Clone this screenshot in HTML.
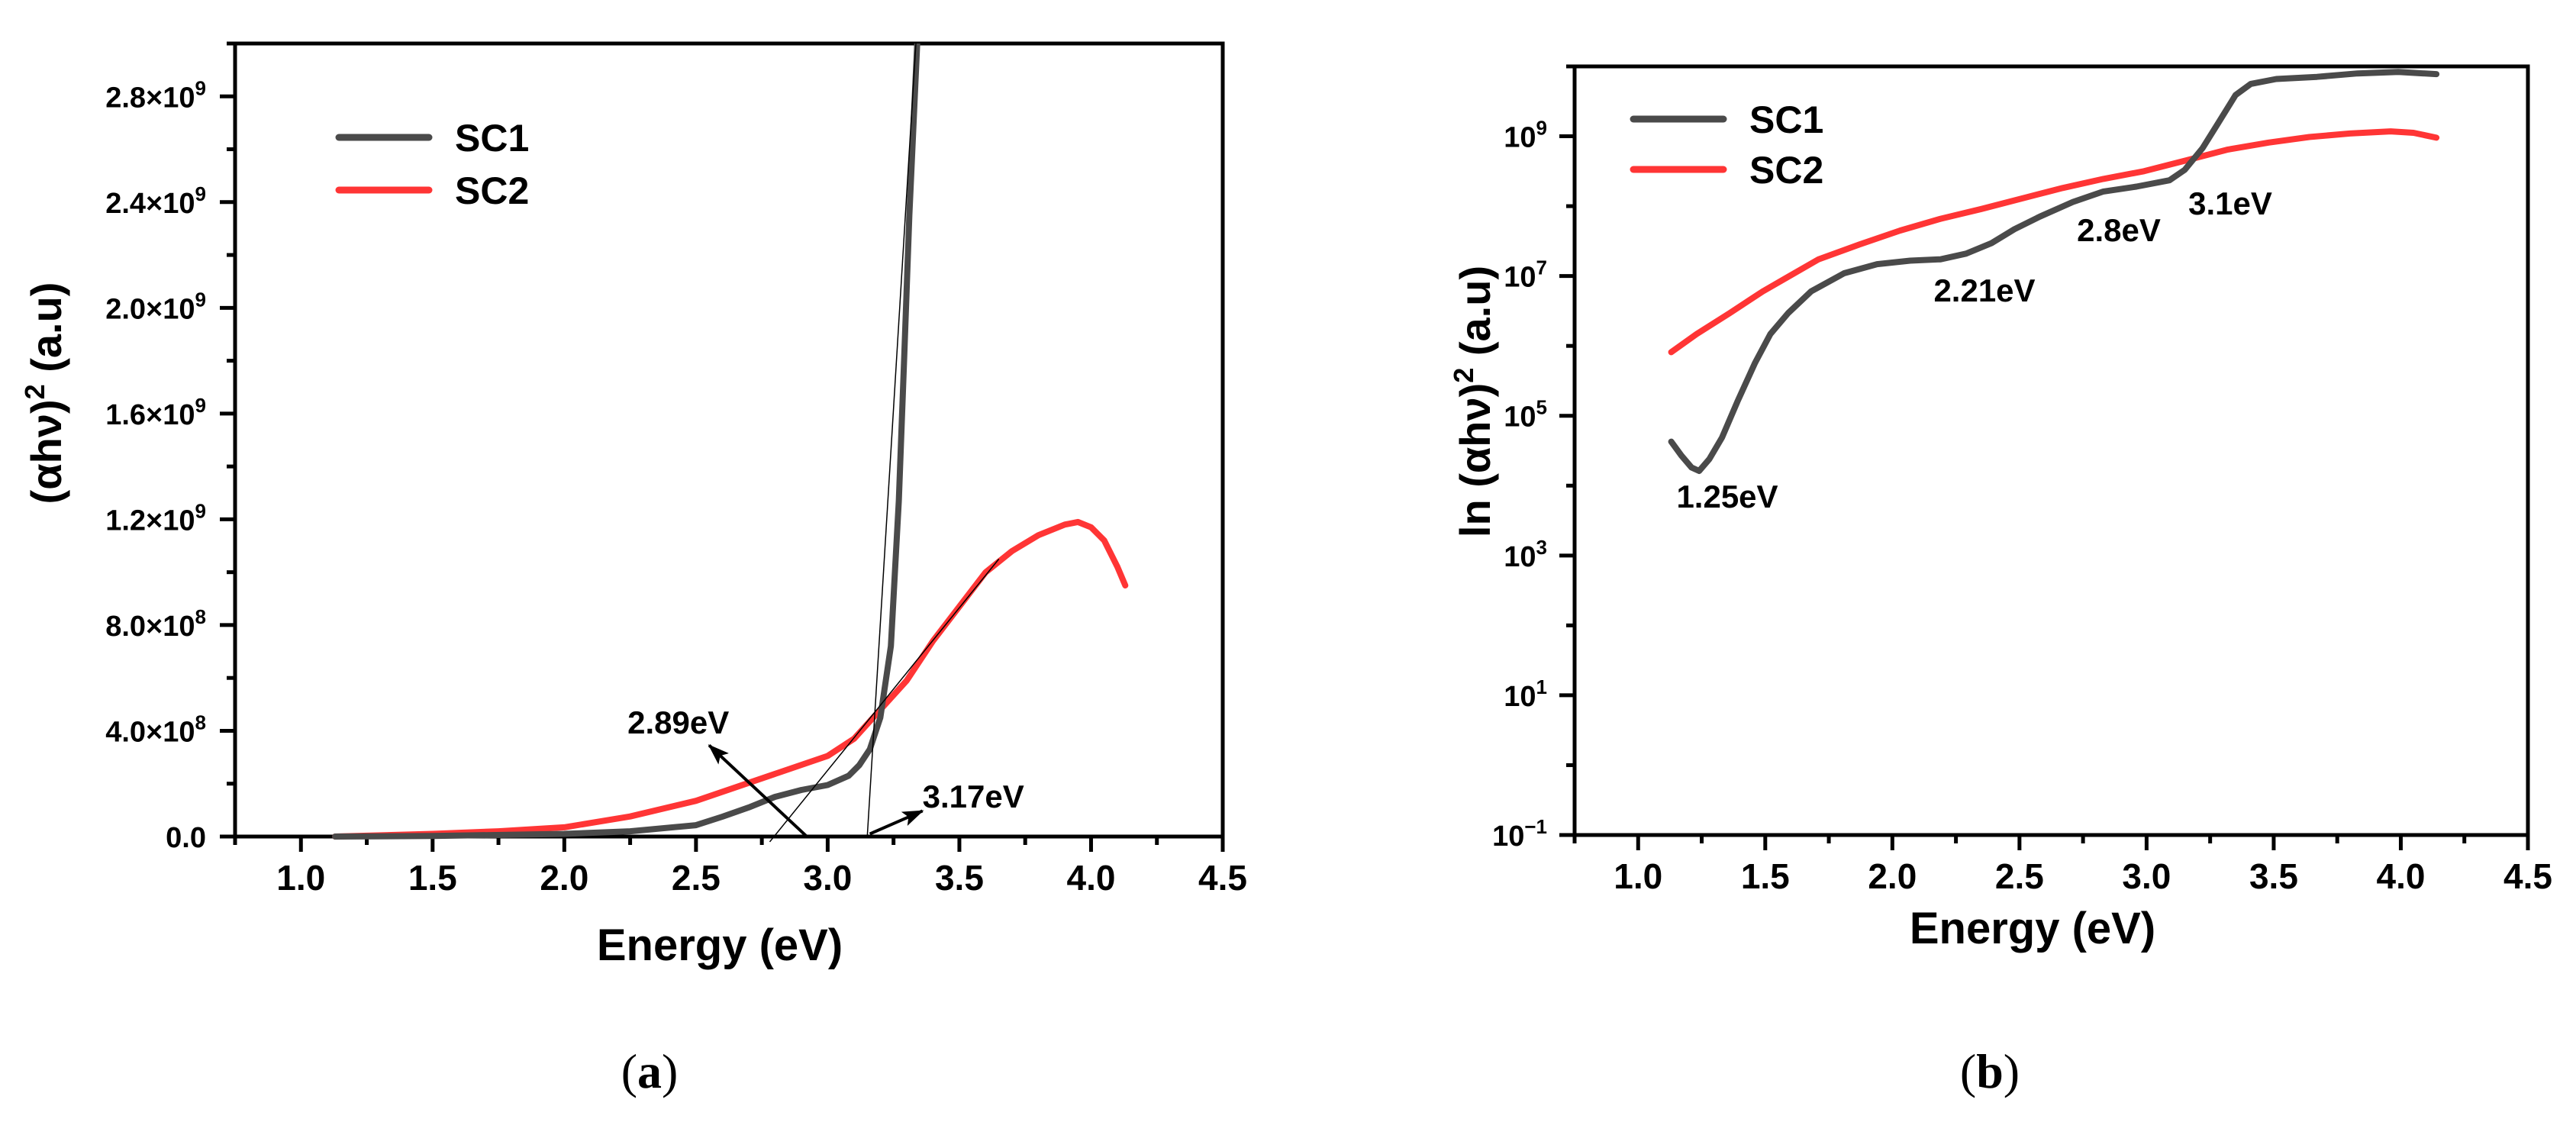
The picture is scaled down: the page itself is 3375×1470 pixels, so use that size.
<!DOCTYPE html>
<html><head><meta charset="utf-8"><style>
html,body{margin:0;padding:0;background:#fff}
svg{display:block}
text{font-family:"Liberation Sans",Arial,sans-serif;font-weight:bold;fill:#000}
</style></head><body>
<svg id="fig" width="3375" height="1470" viewBox="0 0 3375 1470" xmlns="http://www.w3.org/2000/svg">
<g id="pa"></g>
<g id="pb"></g>
<text x="851" y="1425" text-anchor="middle" style="font-family:'Liberation Serif',serif;font-weight:normal;font-size:64px">(<tspan font-weight="bold">a</tspan>)</text>
<text x="2607" y="1425" text-anchor="middle" style="font-family:'Liberation Serif',serif;font-weight:normal;font-size:64px">(<tspan font-weight="bold">b</tspan>)</text>
</svg>
<script>
// Panel (a) data
const aSC1x=[1.13,1.5,2.0,2.25,2.5,2.6,2.7,2.8,2.9,3.0,3.08,3.12,3.16,3.2,3.24,3.27,3.29,3.31,3.34,3.36];
const aSC1y=[0,0.02e8,0.1e8,0.2e8,0.43e8,0.75e8,1.1e8,1.5e8,1.76e8,1.95e8,2.3e8,2.7e8,3.3e8,4.5e8,7.2e8,1.27e9,1.8e9,2.35e9,3.0e9,3.4e9];
const aSC2x=[1.13,1.5,1.75,2.0,2.25,2.5,2.75,3.0,3.1,3.2,3.3,3.4,3.5,3.6,3.7,3.8,3.9,3.95,4.0,4.05,4.1,4.13];
const aSC2y=[0,0.1e8,0.2e8,0.35e8,0.76e8,1.35e8,2.2e8,3.05e8,3.7e8,4.8e8,5.9e8,7.4e8,8.7e8,1.0e9,1.08e9,1.14e9,1.18e9,1.19e9,1.17e9,1.12e9,1.02e9,0.95e9];
const aYTicks=[0,4e8,8e8,1.2e9,1.6e9,2.0e9,2.4e9,2.8e9];
const aYTickMant=["0.0","4.0","8.0","1.2","1.6","2.0","2.4","2.8"];
const aYTickExp=["","8","8","9","9","9","9","9"];
const xTicks=[1.0,1.5,2.0,2.5,3.0,3.5,4.0,4.5];
const xTickLabels=["1.0","1.5","2.0","2.5","3.0","3.5","4.0","4.5"];
// Panel (b) data (log10 values)
const bSC1x=[1.13,1.17,1.21,1.24,1.28,1.33,1.39,1.46,1.52,1.59,1.68,1.81,1.94,2.07,2.19,2.29,2.39,2.48,2.58,2.71,2.83,2.96,3.09,3.15,3.22,3.28,3.35,3.41,3.51,3.67,3.83,3.99,4.14];
const bSC1log=[4.63,4.43,4.26,4.21,4.38,4.69,5.2,5.76,6.17,6.47,6.78,7.04,7.17,7.22,7.24,7.32,7.47,7.67,7.85,8.06,8.21,8.28,8.37,8.52,8.83,9.18,9.59,9.75,9.82,9.85,9.9,9.92,9.89];
const bSC2x=[1.13,1.23,1.36,1.49,1.59,1.71,1.87,2.03,2.19,2.35,2.51,2.67,2.83,2.99,3.15,3.32,3.48,3.64,3.8,3.96,4.05,4.14];
const bSC2log=[5.91,6.17,6.47,6.78,6.99,7.24,7.45,7.65,7.82,7.96,8.11,8.26,8.39,8.5,8.65,8.81,8.91,8.99,9.04,9.07,9.05,8.98];
const bYTickExp=[-1,1,3,5,7,9];
const bYTickLabels=["\u22121","1","3","5","7","9"];

const NS="http://www.w3.org/2000/svg";
function mk(parent,tag,attrs){const e=document.createElementNS(NS,tag);for(const k in attrs)e.setAttribute(k,attrs[k]);parent.appendChild(e);return e;}

const A={l:308,r:1602,t:57,b:1096,x0:0.75,x1:4.5,y0:0,y1:3e9};
const B={l:2063,r:3312,t:87,b:1094,x0:0.75,x1:4.5,y0:-1,y1:10};
function ax(P,v){return P.l+(v-P.x0)/(P.x1-P.x0)*(P.r-P.l);}
function ay(P,v){return P.b-(v-P.y0)/(P.y1-P.y0)*(P.b-P.t);}

function frame(g,P,nm){
  const f=mk(g,'rect',{x:P.l,y:P.t,width:P.r-P.l,height:P.b-P.t,fill:'none',stroke:'#000','stroke-width':5});
  
  
  for(let v=0.75;v<=4.501;v+=0.25){
    const x=ax(P,v);const major=Math.abs((v*2)-Math.round(v*2))<1e-6;
    const t=mk(g,'line',{x1:x,x2:x,y1:P.b,y2:P.b+(major?20:11),stroke:'#000','stroke-width':5});
    
    
  }
  xTicks.forEach((v,i)=>{
    const t=mk(g,'text',{x:ax(P,v),y:P.b+70,'text-anchor':'middle','font-size':46});
    t.textContent=xTickLabels[i];
    
    
  });
}
function line(g,P,xs,ys,color,nm){
  let d='';xs.forEach((x,i)=>{d+=(i?'L':'M')+ax(P,x).toFixed(1)+' '+ay(P,ys[i]).toFixed(1);});
  const p=mk(g,'path',{d:d,fill:'none',stroke:color,'stroke-width':8,'stroke-linejoin':'round','stroke-linecap':'round','clip-path':'url(#'+nm.split('-')[0]+'clip)'});
  
  
}
function legend(g,x,y1,y2,nm){
  [[y1,'#4a4a4a','SC1'],[y2,'#ff3535','SC2']].forEach(([y,c,s])=>{
    const l=mk(g,'line',{x1:x,x2:x+118,y1:y,y2:y,stroke:c,'stroke-width':9,'stroke-linecap':'round'});
    
    
    const t=mk(g,'text',{x:x+152,y:y+18,'font-size':50});t.textContent=s;
    
    
  });
}
const svg=document.getElementById('fig');
const defs=mk(svg,'defs',{});
const ca=mk(defs,'clipPath',{id:'aclip'});mk(ca,'rect',{x:A.l,y:A.t,width:A.r-A.l,height:A.b-A.t+6});
const cb=mk(defs,'clipPath',{id:'bclip'});mk(cb,'rect',{x:B.l,y:B.t,width:B.r-B.l,height:B.b-B.t});
const mka=mk(defs,'marker',{id:'arr',markerWidth:28,markerHeight:20,refX:26,refY:10,orient:'auto',markerUnits:'userSpaceOnUse',viewBox:'0 0 28 20'});
mk(mka,'path',{d:'M0,0 L28,10 L0,20 L6,10 z',fill:'#000'});

// ---- panel a ----
const ga=document.getElementById('pa');
frame(ga,A,'a');
for(let v=0;v<=3e9+1;v+=2e8){
  const y=ay(A,v);const major=Math.round(v/2e8)%2===0;
  const t=mk(ga,'line',{x1:A.l,x2:A.l-(major?20:11),y1:y,y2:y,stroke:'#000','stroke-width':5});
  
  
}
aYTicks.forEach((v,i)=>{
  const t=mk(ga,'text',{x:A.l-38,y:ay(A,v)+14,'text-anchor':'end','font-size':38});
  if(aYTickExp[i]){t.innerHTML=aYTickMant[i]+'\u00d710<tspan dy="-16" font-size="26">'+aYTickExp[i]+'</tspan>';}
  else t.textContent=aYTickMant[i];
  
  
});
line(ga,A,aSC2x,aSC2y,'#ff3535','a-series-sc2');
line(ga,A,aSC1x,aSC1y,'#4a4a4a','a-series-sc1');
const tl=[[2.78,-0.2e8,3.65,1.05e9],[3.15,-0.05e8,3.335,3.0e9]];
tl.forEach(s=>{const l=mk(ga,'line',{x1:ax(A,s[0]),y1:ay(A,s[1]),x2:ax(A,s[2]),y2:ay(A,s[3]),stroke:'#000','stroke-width':1.5});
  
  });
const ar1=mk(ga,'line',{x1:ax(A,2.92),y1:ay(A,0.01e8),x2:ax(A,2.55),y2:ay(A,3.45e8),stroke:'#000','stroke-width':4,'marker-end':'url(#arr)'});


const ar2=mk(ga,'line',{x1:ax(A,3.16),y1:ay(A,0.1e8),x2:ax(A,3.36),y2:ay(A,0.97e8),stroke:'#000','stroke-width':4,'marker-end':'url(#arr)'});


let t=mk(ga,'text',{x:ax(A,2.24),y:ay(A,3.9e8),'font-size':42});t.textContent='2.89eV';


t=mk(ga,'text',{x:ax(A,3.36),y:ay(A,1.1e8),'font-size':42});t.textContent='3.17eV';


legend(ga,444,180,249,'a');
t=mk(ga,'text',{x:943,y:1258,'text-anchor':'middle','font-size':58});t.textContent='Energy (eV)';


t=mk(ga,'text',{x:0,y:0,'text-anchor':'middle','font-size':56,transform:'translate(80,515) rotate(-90)'});
t.innerHTML='(\u03b1h\u03bd)<tspan dy="-22" font-size="36">2</tspan><tspan dy="22"> (a.u)</tspan>';



// ---- panel b ----
const gb=document.getElementById('pb');
frame(gb,B,'b');
for(let e=-1;e<=10;e++){
  const y=ay(B,e);const major=((e+1)%2===0);
  const tk=mk(gb,'line',{x1:B.l,x2:B.l-(major?20:11),y1:y,y2:y,stroke:'#000','stroke-width':5});
  
  
}
bYTickExp.forEach((e,i)=>{
  const tx=mk(gb,'text',{x:B.l-36,y:ay(B,e)+14,'text-anchor':'end','font-size':38});
  tx.innerHTML='10<tspan dy="-16" font-size="26">'+bYTickLabels[i]+'</tspan>';
  
  
});
line(gb,B,bSC2x,bSC2log,'#ff3535','b-series-sc2');
line(gb,B,bSC1x,bSC1log,'#4a4a4a','b-series-sc1');
[['1.25eV',2263,665],['2.21eV',2600,395],['2.8eV',2776,316],['3.1eV',2922,281]].forEach(([s,x,y])=>{
  const tx=mk(gb,'text',{x:x,y:y,'text-anchor':'middle','font-size':42});tx.textContent=s;
  
  
});
legend(gb,2140,156,222,'b');
t=mk(gb,'text',{x:2663,y:1236,'text-anchor':'middle','font-size':58});t.textContent='Energy (eV)';


t=mk(gb,'text',{x:0,y:0,'text-anchor':'middle','font-size':56,transform:'translate(1952,526) rotate(-90)'});
t.innerHTML='ln (\u03b1h\u03bd)<tspan dy="-22" font-size="36">2</tspan><tspan dy="22"> (a.u)</tspan>';


</script>
</body></html>
